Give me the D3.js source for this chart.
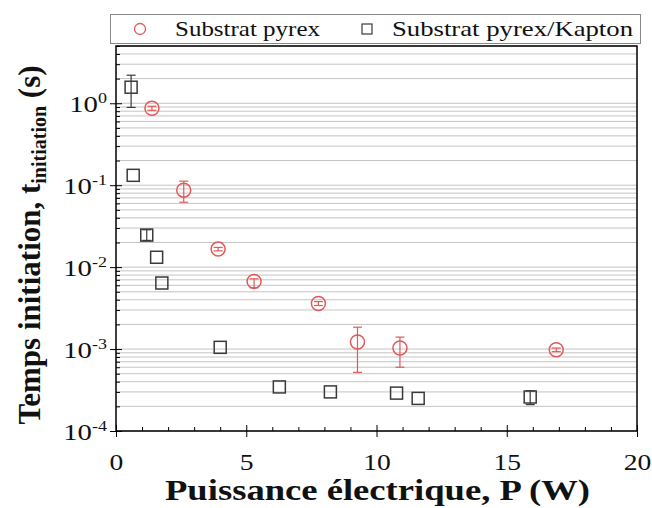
<!DOCTYPE html>
<html>
<head>
<meta charset="utf-8">
<script src="https://cdn.jsdelivr.net/npm/d3@7"></script>
<style>
body{margin:0;background:#fff;}
svg text{font-family:"Liberation Serif","Times New Roman",serif;}
</style>
</head>
<body>
<svg id="chart" width="652" height="508"></svg>
<script>
// Substrat pyrex (red circles)
var pyrexP = [1.38, 2.6, 3.92, 5.3, 7.77, 9.27, 10.9, 16.9];
var pyrexT = [0.87, 0.087, 0.0166, 0.0067, 0.0036, 0.00122, 0.00103, 0.00098];
var pyrexLo = [0.82, 0.062, 0.0158, 0.0056, 0.0034, 0.00052, 0.0006, 0.00093];
var pyrexHi = [0.92, 0.112, 0.0174, 0.0072, 0.0038, 0.00185, 0.0014, 0.00103];
// Substrat pyrex/Kapton (black squares)
var kaptonP = [0.58, 0.66, 1.18, 1.56, 1.76, 4.0, 6.27, 8.23, 10.77, 11.6, 15.9];
var kaptonT = [1.57, 0.132, 0.0246, 0.0132, 0.0064, 0.00105, 0.000345, 0.0003, 0.00029, 0.00025, 0.00026];
var kaptonLo = [0.89, 0.132, 0.0212, 0.0132, 0.0064, 0.00105, 0.000345, 0.0003, 0.00029, 0.00025, 0.00021];
var kaptonHi = [2.2, 0.132, 0.0286, 0.0132, 0.0064, 0.00105, 0.000345, 0.0003, 0.00029, 0.00025, 0.00031];
var xMajor = [0, 5, 10, 15, 20];
var yMajor = [1e0, 1e-1, 1e-2, 1e-3, 1e-4];
var seriesNames = ['Substrat pyrex', 'Substrat pyrex/Kapton'];

var red = '#e05a5a', dark = '#3a3a3a';
var stretch = 1.2; // the original text is a bit wider than plain Times
var svg = d3.select('#chart');
var m = {l:116, r:637, t:46, b:431};

var x = d3.scaleLinear().domain([0,20]).range([m.l,m.r]);
var y = d3.scaleLog().domain([1e-4,5]).range([m.b,m.t]);

// grid
svg.append('g').selectAll('line')
  .data(y.ticks())
  .enter().append('line')
  .attr('x1',m.l).attr('x2',m.r)
  .attr('y1',function(d){return y(d);}).attr('y2',function(d){return y(d);})
  .attr('stroke','#c4c4c4').attr('stroke-width',1);

// frame
svg.append('rect').attr('x',m.l).attr('y',m.t).attr('width',m.r-m.l).attr('height',m.b-m.t)
  .attr('fill','none').attr('stroke','#000').attr('stroke-width',1.5);

// x axis
var xMinor = d3.range(0,21).filter(function(d){return xMajor.indexOf(d)<0;});
svg.append('g').attr('transform','translate(0,'+m.b+')')
  .call(d3.axisBottom(x).tickValues(xMinor).tickSize(-4).tickFormat(''))
  .call(function(g){g.select('.domain').remove();});
var xAx = svg.append('g').attr('transform','translate(0,'+m.b+')')
  .call(d3.axisBottom(x).tickValues(xMajor).tickSize(6).tickFormat(''))
  .call(function(g){g.select('.domain').remove();});
xAx.selectAll('.tick').append('line').attr('y2',-6).attr('stroke','#000');
xAx.selectAll('.tick').append('text')
  .attr('transform','translate(0,39) scale('+stretch+',1)')
  .attr('text-anchor','middle').attr('font-size',23).attr('fill','#111')
  .text(function(d){return d;});

// y axis
var yMinor = y.ticks().filter(function(d){return yMajor.indexOf(d)<0;});
svg.append('g').attr('transform','translate('+m.l+',0)')
  .call(d3.axisLeft(y).tickValues(yMinor).tickSize(-4).tickFormat(''))
  .call(function(g){g.select('.domain').remove();});
var yAx = svg.append('g').attr('transform','translate('+m.l+',0)')
  .call(d3.axisLeft(y).tickValues(yMajor).tickSize(6).tickFormat(''))
  .call(function(g){g.select('.domain').remove();});
yAx.selectAll('.tick').append('line').attr('x2',6).attr('stroke','#000');
yAx.selectAll('.tick').append('text')
  .attr('transform','translate(-9,8) scale('+stretch+',1)')
  .attr('text-anchor','end')
  .attr('font-size',24).attr('fill','#111')
  .each(function(d){
    var t = d3.select(this);
    t.append('tspan').text('10');
    t.append('tspan').attr('font-size',15).attr('dy','-0.6em').text(Math.round(Math.log10(d)));
  });

// error bars (skipped where the bar has no extent)
function errBars(P,lo,hi,color){
  var idx = d3.range(P.length).filter(function(i){return lo[i]!==hi[i];});
  var g = svg.append('g').attr('stroke',color).attr('stroke-width',1.2);
  g.selectAll(null).data(idx).enter().append('line')
    .attr('x1',function(i){return x(P[i]);}).attr('x2',function(i){return x(P[i]);})
    .attr('y1',function(i){return y(lo[i]);}).attr('y2',function(i){return y(hi[i]);});
  [lo,hi].forEach(function(arr){
    g.selectAll(null).data(idx).enter().append('line')
      .attr('x1',function(i){return x(P[i])-4.5;}).attr('x2',function(i){return x(P[i])+4.5;})
      .attr('y1',function(i){return y(arr[i]);}).attr('y2',function(i){return y(arr[i]);});
  });
}
errBars(pyrexP,pyrexLo,pyrexHi,red);
errBars(kaptonP,kaptonLo,kaptonHi,dark);

// markers
svg.append('g').selectAll('circle').data(pyrexP).enter().append('circle')
  .attr('cx',function(d){return x(d);}).attr('cy',function(d,i){return y(pyrexT[i]);})
  .attr('r',7).attr('fill','none').attr('stroke',red).attr('stroke-width',1.5);
svg.append('g').selectAll('rect').data(kaptonP).enter().append('rect')
  .attr('x',function(d){return x(d)-6;}).attr('y',function(d,i){return y(kaptonT[i])-6;})
  .attr('width',12).attr('height',12).attr('fill','none').attr('stroke',dark).attr('stroke-width',1.5);

// legend
var lg = svg.append('g');
lg.append('rect').attr('x',110.5).attr('y',14.5).attr('width',530).attr('height',29)
  .attr('fill','#fff').attr('stroke','#888').attr('stroke-width',1);
lg.append('circle').attr('cx',140).attr('cy',29).attr('r',5.5).attr('fill','none').attr('stroke',red).attr('stroke-width',1.3);
lg.append('text').attr('x',175).attr('y',36).attr('font-size',21).attr('fill','#111')
  .attr('textLength',145).attr('lengthAdjust','spacingAndGlyphs').text(seriesNames[0]);
lg.append('rect').attr('x',362).attr('y',24).attr('width',10).attr('height',10).attr('fill','none').attr('stroke',dark).attr('stroke-width',1.2);
lg.append('text').attr('x',392).attr('y',36).attr('font-size',21).attr('fill','#111')
  .attr('textLength',241).attr('lengthAdjust','spacingAndGlyphs').text(seriesNames[1]);

// axis titles
svg.append('text').attr('x',165).attr('y',500)
  .attr('font-size',30).attr('font-weight','bold').attr('fill','#111')
  .attr('textLength',425).attr('lengthAdjust','spacingAndGlyphs')
  .text('Puissance électrique, P (W)');
var yt = svg.append('text').attr('transform','translate(40,245) rotate(-90)').attr('text-anchor','middle')
  .attr('font-size',31).attr('font-weight','bold').attr('fill','#111');
yt.append('tspan').text('Temps initiation, t');
yt.append('tspan').attr('font-size',20).attr('dy','0.3em').text('initiation');
yt.append('tspan').attr('dy','-0.2em').text(' (s)');
</script>
</body>
</html>
